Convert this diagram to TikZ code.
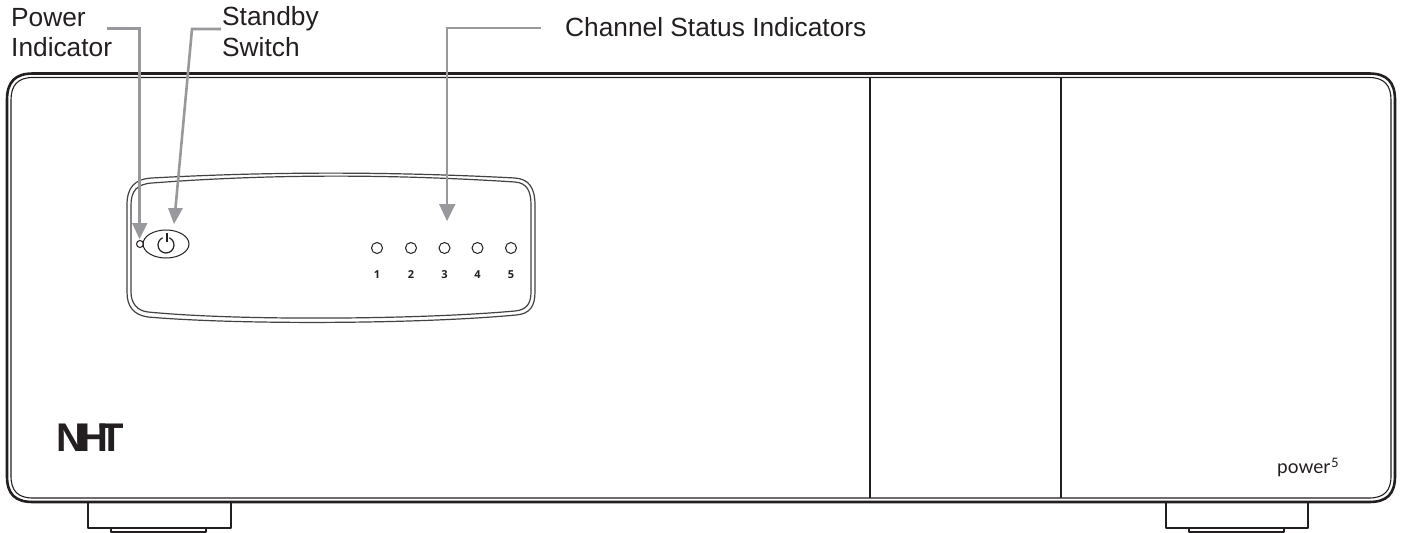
\documentclass[tikz,border=0pt]{standalone}
\usepackage{fontspec}
\usetikzlibrary{shapes.geometric}
\setmainfont{Liberation Sans}
\newfontfamily\badgefont{Lato}
\newfontfamily\ledfont{Open Sans}
\definecolor{inkblack}{RGB}{35,31,32}
\definecolor{leadergray}{RGB}{152,153,156}
\tikzset{
  callout/.style={inner sep=0pt,anchor=base west,align=left,text=inkblack,font=\fontsize{26.3}{33}\selectfont},
  leader/.style={draw=leadergray,line width=2.6pt},
  leaderhead/.style={fill=leadergray},
  casing/.style={draw=inkblack,line width=2.6pt,line join=round},
  thinline/.style={draw=inkblack,line width=1.1pt},
  panelline/.style={draw=inkblack!85,line width=1.2pt},
  led/.style={draw=inkblack,line width=1pt,circle,minimum size=11pt,inner sep=0pt},
  ledlabel/.style={inner sep=0pt,anchor=base,text=inkblack,font=\ledfont\bfseries\fontsize{11}{11}\selectfont}
}
\begin{document}
\begin{tikzpicture}[x=1pt,y=-1pt]
\useasboundingbox (0,0) rectangle (1401,533);

% casing
\draw [casing] (7,100) .. controls (7,82) and (15,73.5) .. (33,73.5) -- (1369,73.5)
  .. controls (1387,73.5) and (1395,82) .. (1395,100) -- (1395,476)
  .. controls (1395,494) and (1387,502) .. (1369,502) -- (33,502)
  .. controls (15,502) and (7,494) .. (7,476) -- cycle;
\draw [thinline] (11,100) .. controls (11,85) and (18,77.5) .. (33,77.5) -- (1369,77.5)
  .. controls (1384,77.5) and (1391,85) .. (1391,100) -- (1391,476)
  .. controls (1391,491) and (1384,498) .. (1369,498) -- (33,498)
  .. controls (18,498) and (11,491) .. (11,476) -- cycle;
\draw [thinline] (870,77.5) -- (870,498);
\draw [thinline] (1061,77.5) -- (1061,498);

% feet
\draw [casing] (88,502) -- (88,528) -- (231,528) -- (231,502);
\draw [casing] (111,528) -- (111,532) -- (206,532) -- (206,528);
\draw [casing] (1166,502) -- (1166,528) -- (1308,528) -- (1308,502);
\draw [casing] (1189,528) -- (1189,532) -- (1284,532) -- (1284,528);

% control panel
\draw [panelline] (127,205) .. controls (127,188) and (134,179) .. (152,178)
  .. controls (270,171.5) and (390,171.5) .. (515,178)
  .. controls (529,179) and (535,188) .. (535,205) -- (535,292)
  .. controls (535,306) and (530,314) .. (516,315)
  .. controls (420,324) and (240,325) .. (148,317)
  .. controls (134,315) and (127,307) .. (127,292) -- cycle;
\draw [panelline] (131,205) .. controls (131,191) and (137,184) .. (152,183)
  .. controls (270,174) and (390,174) .. (515,182)
  .. controls (527,183) and (531,191) .. (531,205) -- (531,292)
  .. controls (531,303) and (527,310) .. (515,311)
  .. controls (420,319.5) and (240,321) .. (148,312)
  .. controls (138,311) and (131,304) .. (131,292) -- cycle;

\node [led,minimum size=7pt] (powerled) at (140,244) {};
\node [draw=inkblack,line width=1pt,ellipse,minimum width=46pt,minimum height=28pt,inner sep=0pt] (switch) at (166,244) {};
\coordinate (switchc) at (166,245);
\draw [inkblack,line width=1.2pt] ([shift={(-65:8)}]switchc) arc (-65:245:8);
\draw [inkblack,line width=2.2pt] (167,233) -- (167,242);

\foreach \n/\x in {1/377,2/411,3/444.5,4/477.5,5/511} {
  \node [led] (led\n) at (\x,248) {};
  \node [ledlabel] (num\n) at (\x,278) {\n};
}

% leaders
\node [callout] (powerlabel) at (11,26) {Power};
\node [callout] (indicatorlabel) at (11,56.5) {Indicator};
\node [callout] (standbylabel) at (222,25) {Standby};
\node [callout] (switchlabel) at (222,56) {Switch};
\node [callout] (channellabel) at (565,36) {Channel Status Indicators};

\coordinate (powerfree) at (107,28.5);
\coordinate (powerbend) at (139.5,28.5);
\coordinate (powerbase) at (139.5,223);
\coordinate (powertip) at (139.5,239);
\draw [leader] (powerfree) -- (powerbend) -- (powerbase);
\fill [leaderhead] (powertip) -- (132,223) -- (147.5,223) -- cycle;

\coordinate (standbyfree) at (221,29);
\coordinate (standbybend) at (192,29);
\coordinate (standbybase) at (175.5,208);
\coordinate (standbytip) at (174,224);
\draw [leader] (standbyfree) -- (standbybend) -- (standbybase);
\fill [leaderhead] (standbytip) -- (168,208) -- (183,208) -- cycle;

\coordinate (channelfree) at (541,28);
\coordinate (channelbend) at (447,28);
\coordinate (channelbase) at (447,204);
\coordinate (channeltip) at (447,221);
\draw [leader] (channelfree) -- (channelbend) -- (channelbase);
\fill [leaderhead] (channeltip) -- (439,204) -- (455.5,204) -- cycle;

% badges
\node [inner sep=0pt,anchor=base west,text=inkblack,font=\bfseries\fontsize{40}{40}\selectfont] (logo) at (56,451)
  {N\kern-6ptH\kern-8ptT};
\node [inner sep=0pt,anchor=base west,text=inkblack,font=\badgefont\fontsize{19}{19}\selectfont] (model) at (1277,473)
  {power\kern1pt\raisebox{6pt}{\fontsize{13}{13}\selectfont 5}};
\end{tikzpicture}
\end{document}
